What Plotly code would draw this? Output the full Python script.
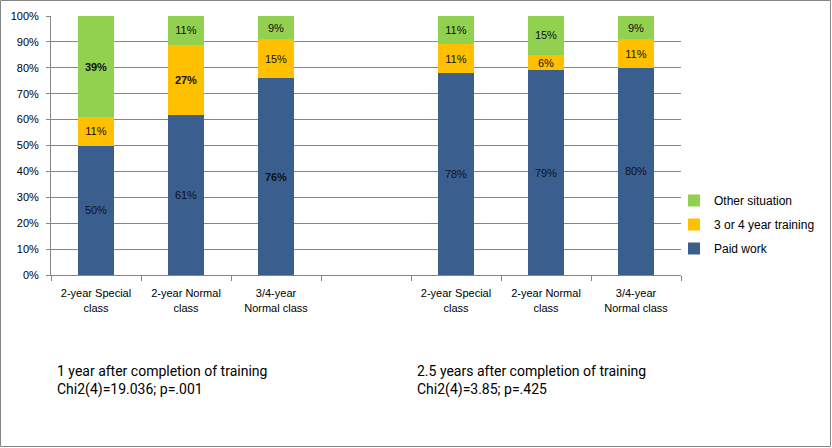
import plotly.graph_objects as go

# ---- data ----
tick_labels = ["2-year Special<br>class", "2-year Normal<br>class", "3/4-year<br>Normal class", "",
               "2-year Special<br>class", "2-year Normal<br>class", "3/4-year<br>Normal class"]
paid_work = [50, 61, 76, None, 78, 79, 80]
training = [11, 27, 15, None, 11, 6, 11]
other = [39, 11, 9, None, 11, 15, 9]
series_names = ["Paid work", "3 or 4 year training", "Other situation"]
note_left = ["1 year after completion of training", "Chi2(4)=19.036; p=.001"]
note_right = ["2.5 years after completion of training", "Chi2(4)=3.85; p=.425"]

# ---- style ----
colors = ["#3A5F8E", "#FFC000", "#92D050"]
bold_points = {0: {2}, 1: {1}, 2: {0}}  # series index -> point indices drawn bold
W, H = 832, 448
L, R, T, B = 51, 681, 16, 275
font_ui = "Liberation Sans, Arial, sans-serif"
font_note = "Liberation Sans Narrow, Roboto, sans-serif"

x = list(range(len(tick_labels)))
fig = go.Figure()
for si, (name, vals) in enumerate(zip(series_names, [paid_work, training, other])):
    txt = []
    for i, v in enumerate(vals):
        if v is None:
            txt.append("")
        elif i in bold_points.get(si, set()):
            txt.append(f"<b>{v}%</b>")
        else:
            txt.append(f"{v}%")
    fig.add_trace(go.Bar(
        x=x, y=vals, name=name, marker=dict(color=colors[si], line=dict(width=0)),
        width=0.4, text=txt, textposition="inside", insidetextanchor="middle",
        textangle=0, textfont=dict(family=font_ui, size=11, color="#111111"),
        hoverinfo="skip", legendgroup=name, legendrank=len(series_names) - si,
        constraintext="none",
    ))

pw = R - L
ph = B - T
def px_x(p):
    return (p - L) / pw
def px_y(p):
    return (B - p) / ph

annotations = []
for lines, xp in [(note_left, 55), (note_right, 415)]:
    for li, (t, yp) in enumerate(zip(lines, [371, 389])):
        annotations.append(dict(
            text=t, x=px_x(xp), y=px_y(yp), xref="paper", yref="paper",
            xanchor="left", yanchor="middle", showarrow=False,
            font=dict(family=font_note, size=14, color="#000000"),
        ))

fig.update_layout(
    width=W, height=H,
    margin=dict(l=L, r=W - R, t=T, b=H - B, pad=0, autoexpand=False),
    barmode="stack", barnorm="percent",
    paper_bgcolor="white", plot_bgcolor="white",
    showlegend=True,
    legend=dict(
        x=px_x(674), y=px_y(186), xanchor="left", yanchor="top",
        traceorder="grouped", tracegroupgap=5,
        font=dict(family=font_ui, size=12, color="#000000"),
        bgcolor="rgba(0,0,0,0)",
    ),
    xaxis=dict(
        range=[-0.5, len(tick_labels) - 0.5],
        tickmode="array", tickvals=x, ticktext=tick_labels, ticks="",
        ticklabelstandoff=8,
        showgrid=False, showline=True, linecolor="#868686", linewidth=1,
        tickfont=dict(family=font_ui, size=11, color="#000000"),
        minor=dict(tickmode="linear", tick0=-0.5, dtick=1, ticks="outside",
                   ticklen=5, tickcolor="#868686", showgrid=False),
        zeroline=False,
    ),
    yaxis=dict(
        range=[0, 100], tickmode="linear", tick0=0, dtick=10, ticksuffix="%",
        showgrid=True, gridcolor="#868686", gridwidth=1,
        showline=True, linecolor="#868686", linewidth=1,
        ticks="outside", ticklen=4, tickcolor="#868686",
        ticklabelstandoff=5,
        tickfont=dict(family=font_ui, size=11, color="#000000"),
        zeroline=False,
    ),
    annotations=annotations,
    shapes=[dict(type="rect", xref="paper", yref="paper",
                 x0=px_x(0.5), x1=px_x(830.5), y0=px_y(446.5), y1=px_y(0.5),
                 line=dict(color="#868686", width=1), layer="below")],
)

fig.write_html("out.html", config={"displayModeBar": False},
               post_script="document.body.style.margin='0px';")
